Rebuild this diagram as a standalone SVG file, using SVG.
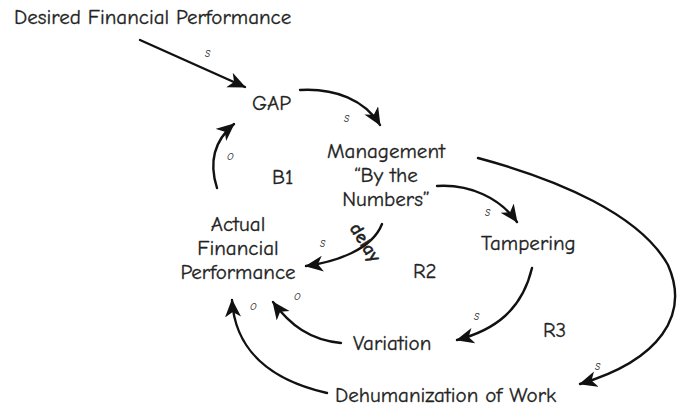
<svg xmlns="http://www.w3.org/2000/svg" width="682" height="408" viewBox="0 0 682 408">
<style>
.t{font-family:"Comic Neue","DejaVu Sans",sans-serif;font-size:21px;fill:#222;stroke:#222;stroke-width:0.3}
.c{text-anchor:middle}
.p{font-family:"Comic Neue","DejaVu Sans",sans-serif;font-size:13px;fill:#333;font-style:italic}
.a{fill:none;stroke:#111;stroke-width:2.4;stroke-linecap:round;marker-end:url(#ah)}
</style>
<defs>
<marker id="ah" markerUnits="userSpaceOnUse" markerWidth="22" markerHeight="18" refX="17" refY="8" orient="auto">
<path d="M0,0 L18,8 L0,16 L5,8 z" fill="#111"/>
</marker>
</defs>
<rect width="682" height="408" fill="#fff"/>
<g id="connectors">
<path class="a" d="M140,40 L245,87"/>
<path class="a" d="M300,90 C335,88 365,100 380,125"/>
<path class="a" d="M217,188 C208,160 215,140 234,124"/>
<path class="a" d="M437,186 C470,184 500,198 517,222"/>
<path class="a" d="M382,224 C372,250 335,262 306,266"/>
<path class="a" d="M532,268 C522,310 495,330 457,340"/>
<path class="a" d="M341,343 C310,340 290,325 273,302"/>
<path class="a" d="M327,393 C270,380 235,350 232,300"/>
<path class="a" d="M478,158 C560,180 640,215 668,265 C690,315 660,360 580,384"/>
<text class="p" x="205" y="57">s</text>
<text class="p" x="344" y="122">s</text>
<text class="p" x="227" y="160">o</text>
<text class="p" x="485" y="216">s</text>
<text class="p" x="320" y="247">s</text>
<text class="p" x="474" y="320">s</text>
<text class="p" x="294" y="300">o</text>
<text class="p" x="250" y="310">o</text>
<text class="p" x="595" y="370">s</text>
<text class="t" transform="translate(349,228) rotate(58)" style="font-size:19px;font-weight:bold">delay</text>
</g>
<g id="desired"><text class="t" x="14" y="24">Desired Financial Performance</text></g>
<g id="gap"><text class="t" x="252" y="110">GAP</text></g>
<g id="management"><text class="t c" x="386" y="158">Management</text><text class="t c" x="386" y="182">“By the</text><text class="t c" x="386" y="206">Numbers”</text></g>
<g id="b1"><text class="t" x="272" y="184">B1</text></g>
<g id="actual"><text class="t c" x="238" y="231">Actual</text><text class="t c" x="238" y="255">Financial</text><text class="t c" x="238" y="279">Performance</text></g>
<g id="tampering"><text class="t" x="481" y="250">Tampering</text></g>
<g id="r2"><text class="t" x="413" y="278">R2</text></g>
<g id="variation"><text class="t" x="353" y="350">Variation</text></g>
<g id="r3"><text class="t" x="543" y="337">R3</text></g>
<g id="dehumanization"><text class="t" x="335" y="402">Dehumanization of Work</text></g>
</svg>
